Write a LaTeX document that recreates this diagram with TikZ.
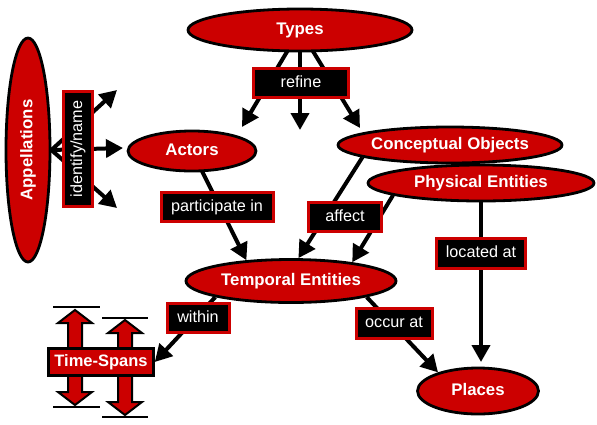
\documentclass[tikz,border=0pt]{standalone}
\usepackage{fontspec}
\setmainfont{Liberation Sans}
\usetikzlibrary{arrows.meta,shapes.geometric}
\definecolor{cred}{RGB}{204,0,0}
\pgfdeclarelayer{bg}
\pgfsetlayers{bg,main}
\begin{document}
\begin{tikzpicture}[x=1pt,y=-1pt,
  ell/.style={ellipse, draw=black, fill=cred, line width=2.8pt, inner sep=0pt, text=white, font=\bfseries\fontsize{16.8}{20}\selectfont},
  th/.style={text height=12pt, text depth=3.5pt},
  lbl/.style={rectangle, draw=cred, fill=black, line width=3pt, inner sep=0pt, text=white, font=\fontsize{16.2}{19}\selectfont, minimum height=29pt},
  tsbox/.style={rectangle, draw=black, fill=cred, line width=2.5pt, inner sep=0pt, text=white, font=\bfseries\fontsize{16.5}{19}\selectfont, minimum width=105pt, minimum height=27pt, text height=12pt, text depth=3.5pt},
  conn/.style={line width=4pt, -{Triangle[length=17pt,width=18pt]}},
  blockarrow/.style={draw=black, fill=cred, line width=2pt, line join=miter},
  bar/.style={draw=black, line width=2.5pt}
]
\useasboundingbox (0,0) rectangle (597,424);

% ellipses
\node[ell, th, minimum width=224pt, minimum height=42pt] (ty) at (300,30) {Types};
\node[ell, minimum width=44pt, minimum height=224pt] (ap) at (28,150) {\rotatebox{90}{Appellations}};
\node[ell, th, minimum width=128pt, minimum height=40pt] (ac) at (192,151) {Actors};
\node[ell, th, minimum width=224pt, minimum height=36pt] (co) at (450,145) {Conceptual Objects};
\node[ell, th, minimum width=226pt, minimum height=36pt] (ph) at (481,183) {Physical Entities};
\node[ell, th, minimum width=210pt, minimum height=43pt] (te) at (291,281) {Temporal Entities};
\node[ell, th, minimum width=121pt, minimum height=46pt] (pl) at (478,391) {Places};

% time-span block arrows
\draw[blockarrow] (75,310) -- (92,323) -- (82,323) -- (82,392) -- (92,392) -- (75,405) -- (58,392) -- (68,392) -- (68,323) -- (58,323) -- cycle;
\draw[blockarrow] (125,320) -- (142,333) -- (132,333) -- (132,402) -- (142,402) -- (125,415) -- (108,402) -- (118,402) -- (118,333) -- (108,333) -- cycle;
\draw[bar] (53,307) -- (100,307);
\draw[bar] (53,407) -- (100,407);
\draw[bar] (102,318) -- (148,318);
\draw[bar] (102,417) -- (148,417);
\node[tsbox] (ts) at (101,362) {Time-Spans};

% labels
\node[lbl, th, minimum width=95pt] (refine) at (301,83) {refine};
\node[lbl, minimum width=29pt, minimum height=115pt] (idn) at (78,149) {\rotatebox{90}{identify/name}};
\node[lbl, th, minimum width=112pt] (part) at (217,207) {participate in};
\node[lbl, th, minimum width=73pt] (aff) at (345,217) {affect};
\node[lbl, th, minimum width=89pt, minimum height=30pt] (loc) at (481,253) {located at};
\node[lbl, th, minimum width=76pt, minimum height=30pt] (occ) at (394,323) {occur at};
\node[lbl, th, minimum width=62pt] (win) at (198,318) {within};

% free ends
\coordinate (r1) at (242,127);
\coordinate (r2) at (300,130);
\coordinate (r3) at (360,128);
\coordinate (a1) at (117,90);
\coordinate (a2) at (123,148);
\coordinate (a3) at (117,208);
\coordinate (pt) at (481,362);

\begin{pgfonlayer}{bg}
\draw[conn] (ty.center) -- (r1);
\draw[conn] (ty.center) -- (r2);
\draw[conn] (ty.center) -- (r3);
\draw[conn] (ap.east) -- (a1);
\draw[conn] (ap.east) -- (a2);
\draw[conn] (ap.east) -- (a3);
\draw[conn] (ac.center) -- (te.155);
\draw[conn] (co.188) -- (te.72);
\draw[conn] (ph.188) -- (te.17);
\draw[conn] (ph.south) -- (pt);
\draw[conn] (te.348) -- (pl.155);
\draw[conn] (te.192) -- (ts.east);
\end{pgfonlayer}
\end{tikzpicture}
\end{document}
